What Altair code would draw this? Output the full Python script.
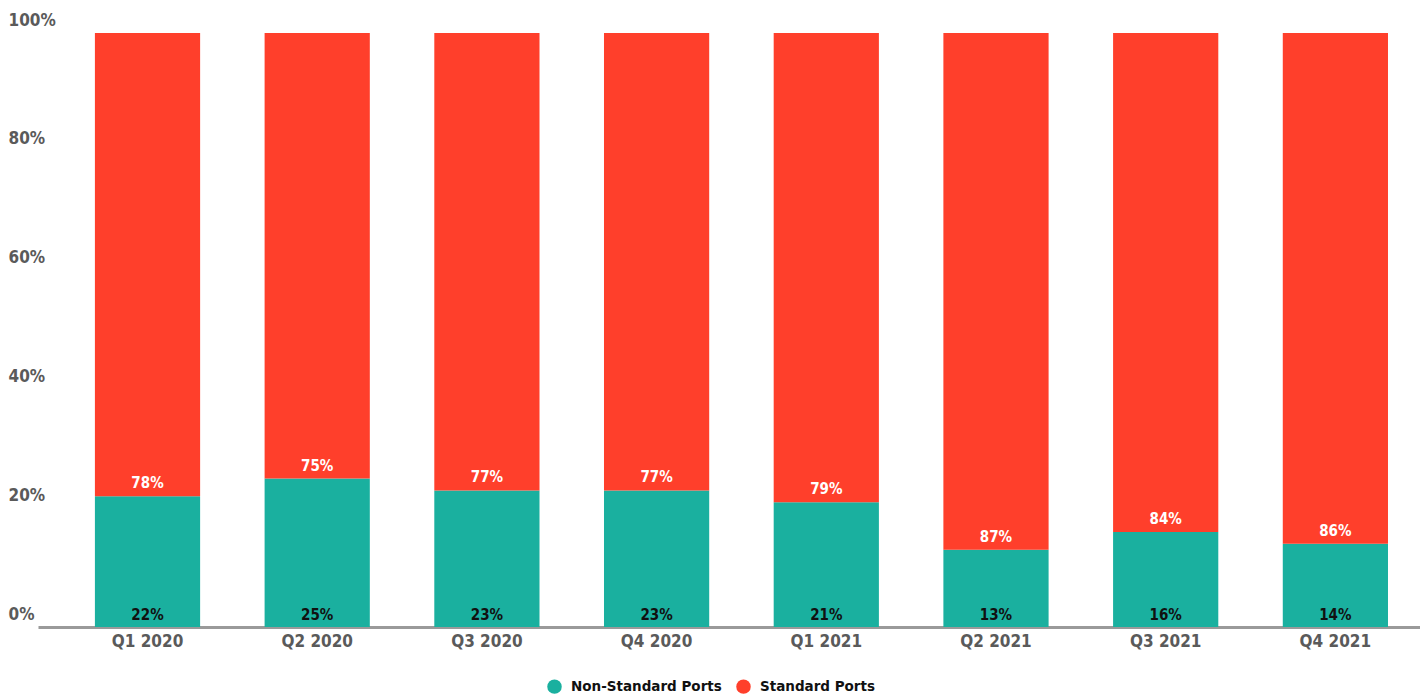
import altair as alt
import pandas as pd

quarters = ["Q1 2020", "Q2 2020", "Q3 2020", "Q4 2020", "Q1 2021", "Q2 2021", "Q3 2021", "Q4 2021"]
non_standard = [22, 25, 23, 23, 21, 13, 16, 14]
standard = [78, 75, 77, 77, 79, 87, 84, 86]
series_names = ["Non-Standard Ports", "Standard Ports"]
series_colors = ["#1AB09F", "#FF3F2B"]
y_ticks = [0, 20, 40, 60, 80, 100]

FONT = "DejaVu Sans Condensed, Liberation Sans Narrow, DejaVu Sans"
LEG_FONT = "DejaVu Sans, Liberation Sans"

rows = []
for q, ns, st in zip(quarters, non_standard, standard):
    rows.append({"quarter": q, "series": series_names[0], "value": ns, "idx": 0})
    rows.append({"quarter": q, "series": series_names[1], "value": st, "idx": 1})
df = pd.DataFrame(rows)

lab = pd.DataFrame({
    "quarter": quarters,
    "ns": non_standard,
    "st": standard,
    "zero": [0] * len(quarters),
    "ns_txt": [f"{v}%" for v in non_standard],
    "st_txt": [f"{v}%" for v in standard],
})

x_enc = alt.X(
    "quarter:N",
    sort=quarters,
    title=None,
    scale=alt.Scale(paddingInner=0.38, paddingOuter=0.262, align=0.64),
    axis=alt.Axis(
        labelAngle=0, ticks=False, domain=True, domainColor="#9a9a9a", domainWidth=3,
        labelFont=FONT, labelFontSize=17, labelFontWeight="bold", labelColor="#5a5a5a",
        labelPadding=6, labelBaseline="top",
    ),
)

bars = alt.Chart(df).mark_bar().encode(
    x=x_enc,
    y=alt.Y(
        "value:Q",
        stack="zero",
        title=None,
        scale=alt.Scale(domain=[0, 100], nice=False),
        axis=alt.Axis(
            values=y_ticks, grid=False, domain=False, ticks=False,
            labelExpr="datum.value + '%'", labelAlign="left", labelPadding=30,
            labelBaseline="bottom", labelOffset=-4,
            labelFont=FONT, labelFontSize=17, labelFontWeight="bold", labelColor="#5a5a5a",
        ),
    ),
    color=alt.Color(
        "series:N",
        scale=alt.Scale(domain=series_names, range=series_colors),
        legend=alt.Legend(
            title=None, orient="none", direction="horizontal", legendX=509, legendY=646,
            symbolType="circle", symbolSize=210, symbolStrokeWidth=0,
            labelFont=LEG_FONT, labelFontSize=13.5, labelFontWeight="bold", labelColor="#111111",
            columnPadding=14, labelOffset=9,
        ),
    ),
    order=alt.Order("idx:Q", sort="ascending"),
)

top_labels = alt.Chart(lab).mark_text(
    color="white", font=FONT, fontSize=15, fontWeight="bold", baseline="bottom", dy=-5
).encode(
    x=alt.X("quarter:N", sort=quarters),
    y=alt.Y("ns:Q"),
    text="st_txt:N",
)

bottom_labels = alt.Chart(lab).mark_text(
    color="#111111", font=FONT, fontSize=15, fontWeight="bold", baseline="bottom", dy=-4
).encode(
    x=alt.X("quarter:N", sort=quarters),
    y=alt.Y("zero:Q"),
    text="ns_txt:N",
)

chart = alt.layer(bars, top_labels, bottom_labels).properties(
    width=1382,
    height=594,
    autosize=alt.AutoSizeParams(type="none"),
    padding={"left": 30, "top": 25, "right": 0, "bottom": 70},
).configure(background="white").configure_view(stroke=None, strokeWidth=0)

chart.save("out.html", embed_options={"renderer": "svg", "actions": False})
